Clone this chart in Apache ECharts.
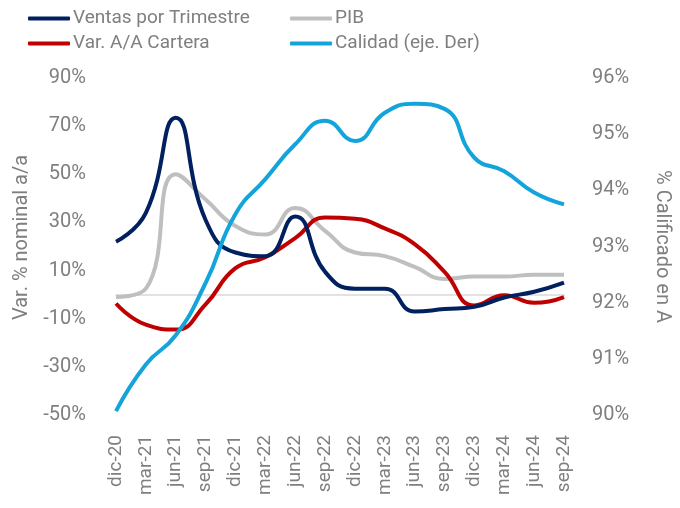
<!DOCTYPE html>
<html lang="es">
<head>
  <meta charset="UTF-8">
  <title>Ventas, PIB, Cartera y Calidad</title>
  <style>
    html, body { margin: 0; padding: 0; background: #fff; }
  </style>
</head>
<body>
  <script src="https://cdn.jsdelivr.net/npm/echarts@6/dist/echarts.min.js"></script>
  <div id="main" style="width: 680px;height:508px;"></div>
  <script type="text/javascript">
      // trimestres
      var trimestres = ['dic-20', 'mar-21', 'jun-21', 'sep-21', 'dic-21', 'mar-22', 'jun-22', 'sep-22',
                        'dic-22', 'mar-23', 'jun-23', 'sep-23', 'dic-23', 'mar-24', 'jun-24', 'sep-24'];

      // series en % (eje izquierdo)
      var ventas  = [22, 34, 73.5, 31, 17.5, 16, 32.5, 9.5, 2.5, 2.5, -7, -6, -5, -1.2, 1.2, 5];
      var pib     = [-1, 2.5, 50, 39.5, 28.5, 25, 36, 26.5, 17.5, 16, 11.5, 6.5, 7.5, 7.5, 8.3, 8.3];
      var cartera = [-3.7, -12.5, -14.5, -4, 11, 15.5, 23.5, 32, 31.5, 27.5, 21, 9.5, -4.5, -0.3, -3.4, -1];

      // calidad en % (eje derecho)
      var calidad = [90.07, 90.9, 91.42, 92.35, 93.58, 94.2, 94.82, 95.24, 94.88, 95.38, 95.54, 95.45,
                     94.58, 94.34, 93.96, 93.75];

      var gris = '#7f7f7f';
      var fuente = 'Roboto';

      var myChart = echarts.init(document.getElementById('main'));

      function leyenda(nombre, left, top) {
        return {
          data: [nombre],
          left: left,
          top: top,
          padding: 0,
          icon: 'roundRect',
          itemWidth: 42,
          itemHeight: 4,
          itemGap: 0,
          textStyle: { color: gris, fontSize: 19, fontFamily: fuente, padding: [0, 0, 0, -2] }
        };
      }

      var option = {
        animation: false,
        legend: [
          leyenda('Ventas por Trimestre', 28, 9),
          leyenda('PIB', 290, 9),
          leyenda('Var. A/A Cartera', 28, 34),
          leyenda('Calidad (eje. Der)', 290, 34)
        ],
        grid: { left: 116, right: 110, top: 78, bottom: 93 },
        xAxis: {
          type: 'category',
          data: trimestres,
          boundaryGap: false,
          axisLine: { onZero: true, lineStyle: { color: '#d9d9d9', width: 1.5 } },
          axisTick: { show: false },
          axisLabel: {
            rotate: 90,
            interval: 0,
            margin: 20,
            color: gris,
            fontSize: 19,
            fontFamily: fuente
          }
        },
        yAxis: [{
          type: 'value',
          min: -50,
          max: 90,
          interval: 20,
          name: 'Var. % nominal a/a',
          nameLocation: 'middle',
          nameGap: 84,
          nameTextStyle: { color: gris, fontSize: 20, fontFamily: fuente, padding: [0, 0, 0, 18] },
          splitLine: { show: false },
          axisLine: { show: false },
          axisTick: { show: false },
          axisLabel: { formatter: '{value}%', color: gris, fontSize: 20, fontFamily: fuente, margin: 30 }
        }, {
          type: 'value',
          min: 90,
          max: 96,
          interval: 1,
          name: '% Calificado en A',
          nameLocation: 'middle',
          nameGap: 88,
          nameRotate: -90,
          nameTextStyle: { color: gris, fontSize: 20, fontFamily: fuente },
          splitLine: { show: false },
          axisLine: { show: false },
          axisTick: { show: false },
          axisLabel: { formatter: '{value}%', color: gris, fontSize: 20, fontFamily: fuente, margin: 28 }
        }],
        series: [{
          name: 'PIB',
          type: 'line',
          data: pib,
          smooth: true,
          symbol: 'none',
          lineStyle: { color: '#bfbfbf', width: 4 },
          itemStyle: { color: '#bfbfbf' }
        }, {
          name: 'Var. A/A Cartera',
          type: 'line',
          data: cartera,
          smooth: true,
          symbol: 'none',
          lineStyle: { color: '#c00000', width: 4 },
          itemStyle: { color: '#c00000' }
        }, {
          name: 'Ventas por Trimestre',
          type: 'line',
          data: ventas,
          smooth: true,
          symbol: 'none',
          lineStyle: { color: '#002060', width: 4 },
          itemStyle: { color: '#002060' }
        }, {
          name: 'Calidad (eje. Der)',
          type: 'line',
          yAxisIndex: 1,
          data: calidad,
          smooth: true,
          symbol: 'none',
          lineStyle: { color: '#14a4dc', width: 4 },
          itemStyle: { color: '#14a4dc' }
        }]
      };

      myChart.setOption(option);
  </script>
</body>
</html>
